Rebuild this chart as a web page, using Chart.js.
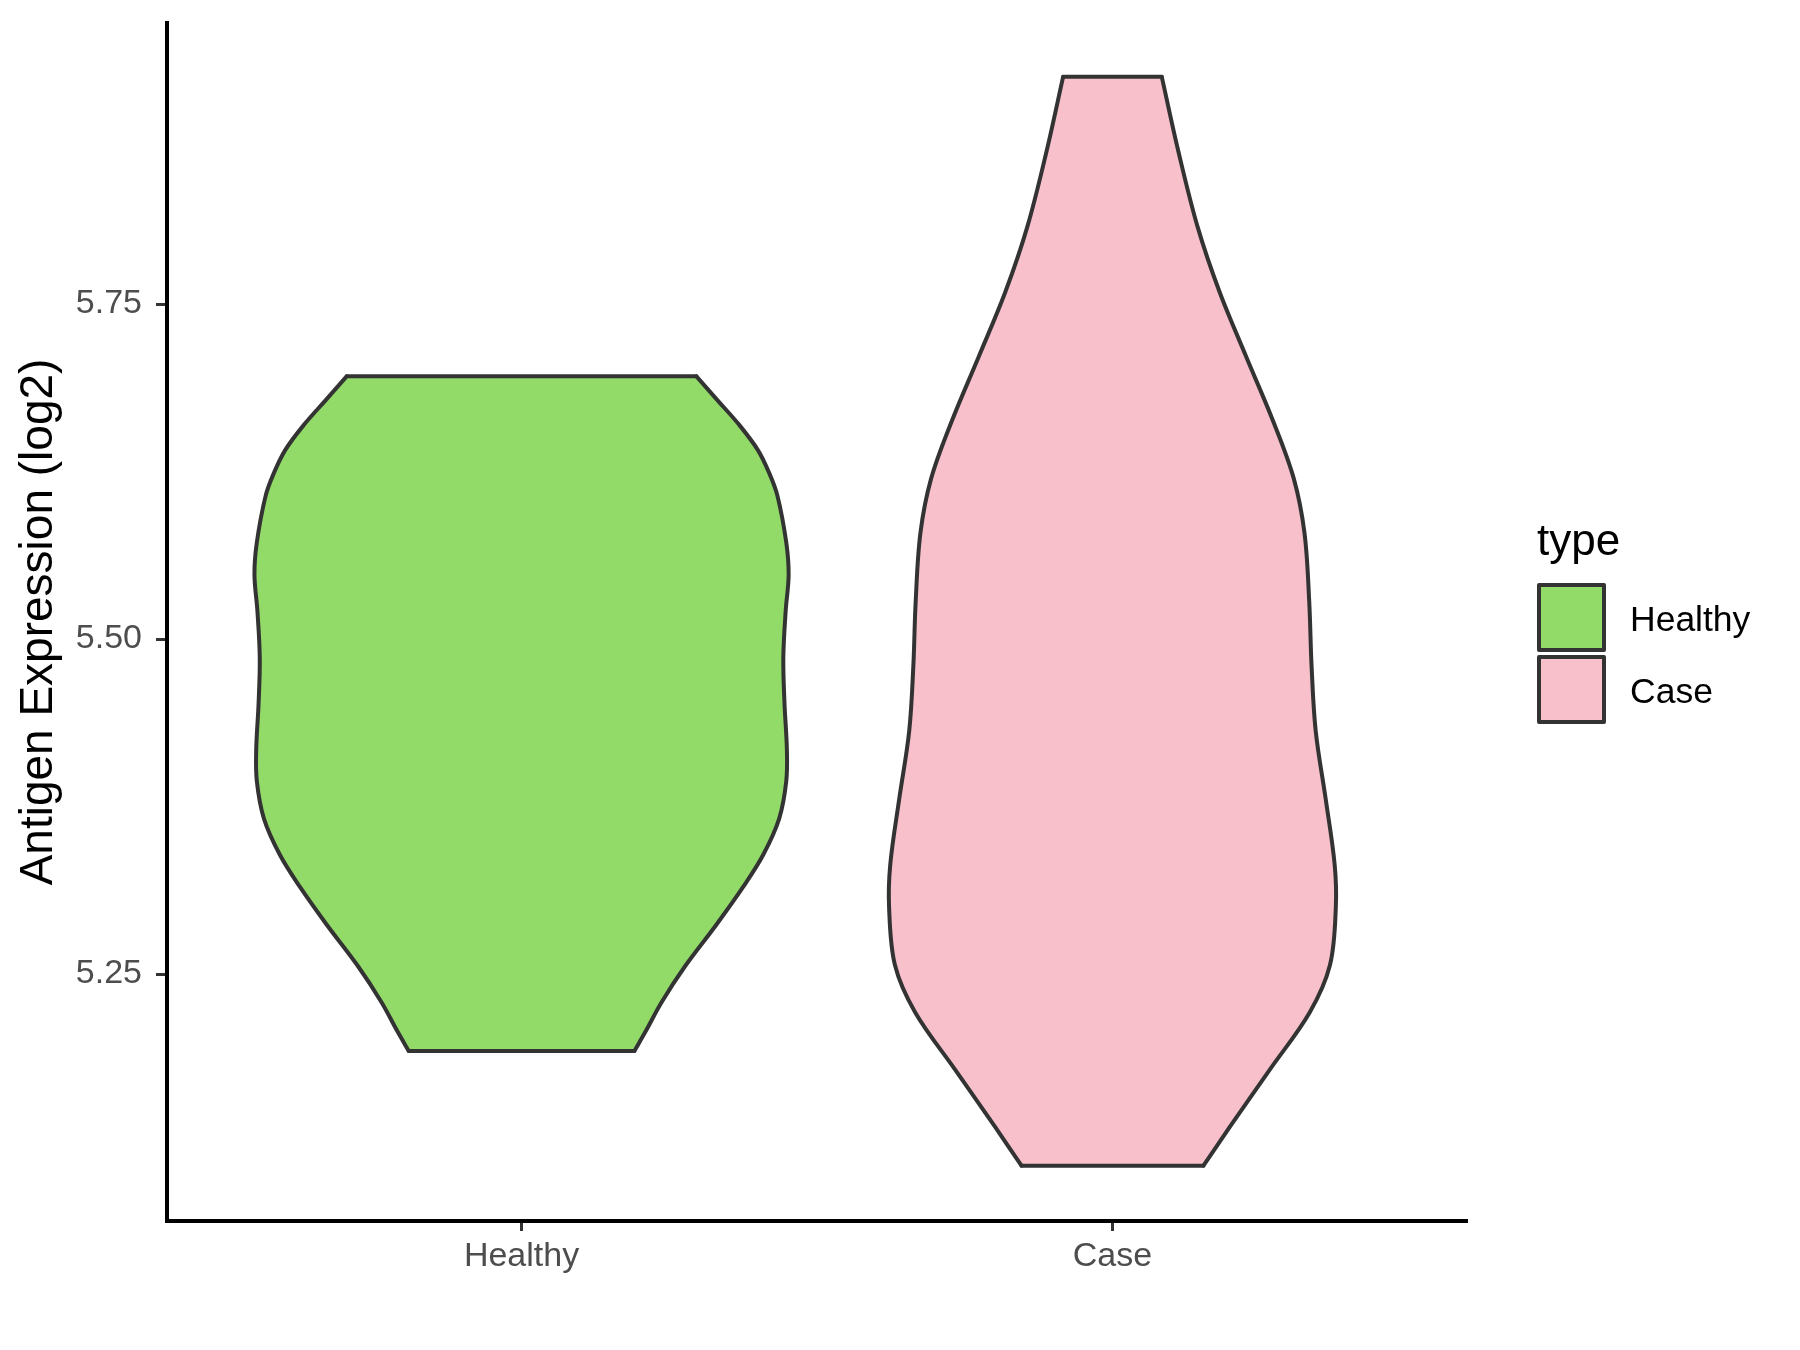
<!DOCTYPE html>
<html>
<head>
<meta charset="utf-8">
<title>Antigen Expression (log2)</title>
<script src="https://cdn.jsdelivr.net/npm/chart.js@4.4.1/dist/chart.umd.min.js"></script>
<style>
  html, body { margin: 0; padding: 0; background: #fff; }
  #wrap { width: 1800px; height: 1350px; position: relative; }
</style>
</head>
<body>
<div id="wrap"><canvas id="violinChart"></canvas></div>
<script>
// groups on the x axis (placed at 1 and 2)
const categories = ['Healthy', 'Case'];
const fillColors = ['#93DB69', '#F7C0CB'];
const legendTitle = 'type';

// violin outlines: expression level (log2) and half-width of the density there
const healthyLevels = [5.1926, 5.208, 5.229, 5.256, 5.287, 5.315, 5.339, 5.366, 5.394, 5.418,
                       5.452, 5.486, 5.521, 5.548, 5.572, 5.607, 5.624, 5.641, 5.66, 5.6785, 5.696];
const healthyHalfWidth = [0.191, 0.211, 0.237, 0.277, 0.330, 0.375, 0.409, 0.436, 0.448, 0.449,
                          0.445, 0.443, 0.447, 0.452, 0.448, 0.433, 0.419, 0.400, 0.368, 0.331, 0.296];

const caseLevels = [5.107, 5.1355, 5.1785, 5.2215, 5.2565, 5.2995, 5.3318, 5.3802, 5.4312, 5.4796,
                    5.528, 5.5791, 5.6195, 5.6625, 5.711, 5.7593, 5.8077, 5.864, 5.9195];
const caseHalfWidth = [0.154, 0.198, 0.266, 0.334, 0.368, 0.378, 0.376, 0.361, 0.344, 0.337,
                       0.333, 0.325, 0.307, 0.272, 0.226, 0.181, 0.144, 0.1115, 0.0835];

const yTicks = [5.25, 5.50, 5.75];
const yMin = 5.0657;
const yMax = 5.9597;

const fontFamily = '"Liberation Sans", Arial, Helvetica, sans-serif';
const outline = '#333333';

const violins = [
  { levels: healthyLevels, widths: healthyHalfWidth },
  { levels: caseLevels, widths: caseHalfWidth }
];

// each violin: left side, right side (filled to the left side), top and bottom edges
const datasets = [];
violins.forEach((v, i) => {
  const centre = i + 1;
  const last = v.levels.length - 1;
  const base = {
    borderColor: outline,
    borderWidth: 4,
    borderCapStyle: 'round',
    borderJoinStyle: 'round',
    pointRadius: 0,
    pointHoverRadius: 0
  };
  datasets.push({
    ...base,
    label: categories[i] + ' left',
    data: v.levels.map((y, k) => ({ x: centre - v.widths[k], y: y })),
    tension: 0.35,
    fill: false
  });
  datasets.push({
    ...base,
    label: categories[i],
    data: v.levels.map((y, k) => ({ x: centre + v.widths[k], y: y })),
    tension: 0.35,
    backgroundColor: fillColors[i],
    fill: '-1'
  });
  datasets.push({
    ...base,
    label: categories[i] + ' top',
    data: [{ x: centre - v.widths[last], y: v.levels[last] }, { x: centre + v.widths[last], y: v.levels[last] }],
    tension: 0,
    fill: false
  });
  datasets.push({
    ...base,
    label: categories[i] + ' bottom',
    data: [{ x: centre - v.widths[0], y: v.levels[0] }, { x: centre + v.widths[0], y: v.levels[0] }],
    tension: 0,
    fill: false
  });
});

// legend on the right, drawn like the ggplot key
const typeLegend = {
  id: 'typeLegend',
  afterDraw(chart) {
    const ctx = chart.ctx;
    const x0 = chart.chartArea.right + 70;
    ctx.save();
    ctx.textAlign = 'left';
    ctx.textBaseline = 'alphabetic';
    ctx.fillStyle = '#000000';
    ctx.font = '44px ' + fontFamily;
    ctx.fillText(legendTitle, x0, 555);
    categories.forEach((name, i) => {
      const top = 585 + i * 72;
      ctx.fillStyle = fillColors[i];
      ctx.fillRect(x0 + 2, top, 65, 65);
      ctx.lineWidth = 4;
      ctx.lineJoin = 'round';
      ctx.strokeStyle = outline;
      ctx.strokeRect(x0 + 2, top, 65, 65);
      ctx.fillStyle = '#000000';
      ctx.font = '35.5px ' + fontFamily;
      ctx.fillText(name, x0 + 93, top + 46);
    });
    ctx.restore();
  }
};

new Chart(document.getElementById('violinChart'), {
  type: 'line',
  data: { datasets: datasets },
  plugins: [typeLegend],
  options: {
    indexAxis: 'y',
    responsive: true,
    maintainAspectRatio: false,
    animation: false,
    layout: { padding: { top: 23, right: 333, bottom: 0, left: 0 } },
    plugins: {
      legend: { display: false },
      tooltip: { enabled: false },
      filler: { propagate: false, drawTime: 'beforeDatasetsDraw' }
    },
    scales: {
      x: {
        type: 'linear',
        min: 0.4,
        max: 2.6,
        afterBuildTicks: s => { s.ticks = categories.map((c, i) => ({ value: i + 1 })); },
        afterFit: s => { s.height = 129; s.paddingLeft = 0; s.paddingRight = 0; },
        ticks: {
          color: '#4D4D4D',
          font: { size: 34, family: fontFamily },
          padding: 5,
          maxRotation: 0,
          callback: v => categories[Math.round(v) - 1] || ''
        },
        grid: { display: true, drawOnChartArea: false, drawTicks: true, tickLength: 10, tickWidth: 3, tickColor: outline },
        border: { display: true, color: '#000000', width: 4 }
      },
      y: {
        type: 'linear',
        min: yMin,
        max: yMax,
        afterBuildTicks: s => { s.ticks = yTicks.map(v => ({ value: v })); },
        afterFit: s => { s.width = 167; s.paddingTop = 0; s.paddingBottom = 0; },
        ticks: {
          color: '#4D4D4D',
          font: { size: 34, family: fontFamily },
          padding: 14,
          callback: v => Number(v).toFixed(2)
        },
        grid: { display: true, drawOnChartArea: false, drawTicks: true, tickLength: 11, tickWidth: 3, tickColor: outline },
        border: { display: true, color: '#000000', width: 4 },
        title: {
          display: true,
          text: 'Antigen Expression (log2)',
          color: '#000000',
          font: { size: 46, family: fontFamily },
          padding: { top: 12, bottom: 0 }
        }
      }
    }
  }
});
</script>
</body>
</html>
